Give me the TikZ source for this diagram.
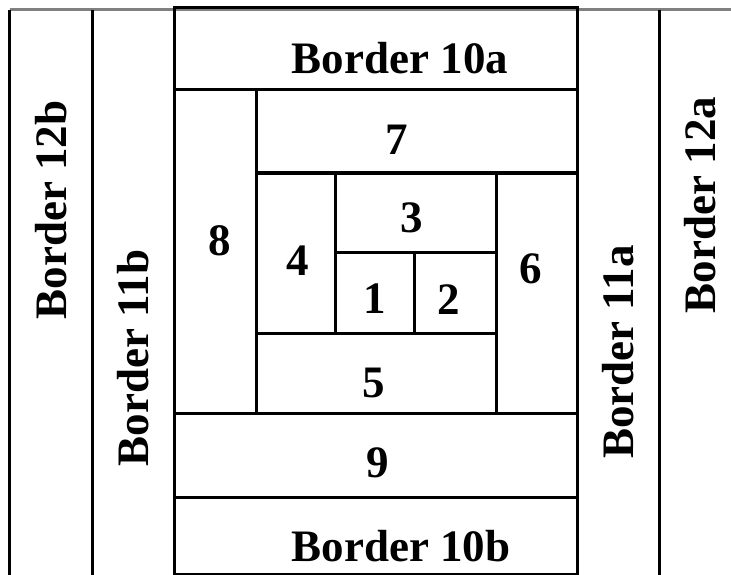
\documentclass[tikz,border=0pt]{standalone}
\usepackage{fontspec}
\setmainfont{Liberation Serif}
\begin{document}
\begin{tikzpicture}[x=1pt,y=-1pt,
  piece/.style={draw=black,line width=3pt},
  topedge/.style={draw=black!50,line width=3pt},
  lbl/.style={font=\fontsize{45}{50}\selectfont\bfseries,inner sep=0pt,anchor=base},
  vlbl/.style={lbl,rotate=90}]
\useasboundingbox[fill=white] (0,0) rectangle (731,575);
% outer columns
\draw[topedge] (9.5,10) -- (731,10);
\draw[piece] (9.5,10) -- (9.5,576);
\draw[piece] (92,10) -- (92,576);
\draw[piece] (659,10) -- (659,576);
% centre block
\draw[piece] (174,8) rectangle (577,90);
\draw[piece] (174,90) -- (174,576);
\draw[piece] (577,90) -- (577,576);
\draw[piece] (174,90) rectangle (256,413);
\draw[piece] (256,90) rectangle (577,173);
\draw[piece] (256,173) rectangle (335,333);
\draw[piece] (335,173) rectangle (496,252);
\draw[piece] (335,252) rectangle (414,333);
\draw[piece] (414,252) rectangle (496,333);
\draw[piece] (496,173) rectangle (577,413);
\draw[piece] (256,333) rectangle (496,413);
\draw[piece] (174,413) rectangle (577,497);
\draw[piece] (174,497) -- (577,497);
\draw[line width=1.2pt] (174,574) -- (577,574);
% labels
\node[lbl] (b10a) at (400,74) {Border 10a};
\node[lbl] (b10b) at (401,561) {Border 10b};
\node[lbl] (p7) at (397,154) {7};
\node[lbl] (p8) at (220,255) {8};
\node[lbl] (p4) at (298,275) {4};
\node[lbl] (p3) at (412,232) {3};
\node[lbl] (p1) at (375,313) {1};
\node[lbl] (p2) at (449,314) {2};
\node[lbl] (p6) at (531,283) {6};
\node[lbl] (p5) at (374,397) {5};
\node[lbl] (p9) at (378,477) {9};
\node[vlbl] (b12b) at (66,210) {Border 12b};
\node[vlbl] (b11b) at (148,358) {Border 11b};
\node[vlbl] (b11a) at (633,352) {Border 11a};
\node[vlbl] (b12a) at (715,205) {Border 12a};
\end{tikzpicture}
\end{document}
